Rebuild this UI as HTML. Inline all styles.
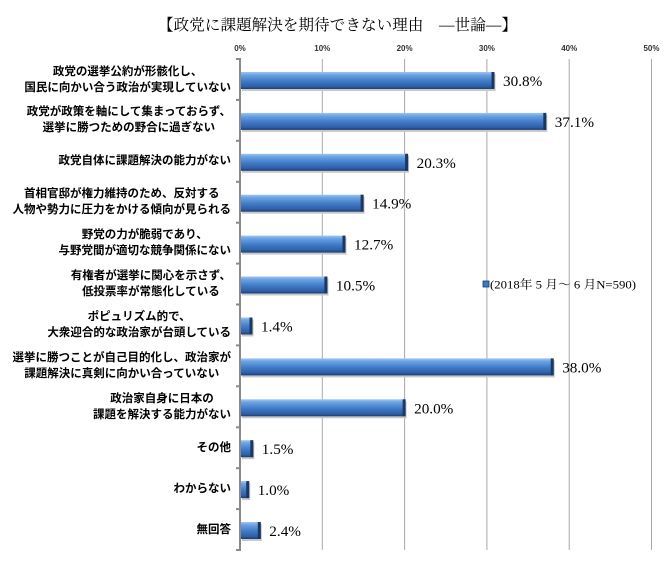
<!DOCTYPE html>
<html><head><meta charset="utf-8">
<style>
html,body{margin:0;padding:0;background:#fff;}
#wrap{position:relative;width:670px;height:568px;overflow:hidden;background:#fff;}
svg{position:absolute;left:0;top:0;}
.lab{position:absolute;right:439px;text-align:center;font-family:"Liberation Sans","Noto Sans CJK JP",sans-serif;font-weight:bold;font-size:11.5px;line-height:16px;color:#000;white-space:nowrap;}
</style></head><body><div id="wrap">
<svg width="670" height="568" viewBox="0 0 670 568" xmlns="http://www.w3.org/2000/svg">
<defs>
<linearGradient id="bg" x1="0" y1="0" x2="0" y2="1">
<stop offset="0" stop-color="#9cc6f2"/>
<stop offset="0.18" stop-color="#6aa2e2"/>
<stop offset="0.55" stop-color="#3f79c6"/>
<stop offset="0.85" stop-color="#2f5fa6"/>
<stop offset="1" stop-color="#1c3d6e"/>
</linearGradient>
</defs>
<text x="158" y="30" font-family="Liberation Serif,'Noto Serif CJK JP',serif" font-size="15.5" textLength="359" lengthAdjust="spacing" fill="#000">【政党に課題解決を期待できない理由　―世論―】</text>
<g font-family="Liberation Sans,sans-serif" font-size="8" font-weight="bold" fill="#333" text-anchor="middle">
<text x="240" y="51">0%</text><text x="322.3" y="51">10%</text><text x="404.6" y="51">20%</text><text x="486.9" y="51">30%</text><text x="569.2" y="51">40%</text><text x="651.5" y="51">50%</text>
</g>
<g stroke="#a8a8a8" stroke-width="1">
<line x1="322.3" y1="59" x2="322.3" y2="550"/><line x1="404.6" y1="59" x2="404.6" y2="550"/><line x1="486.9" y1="59" x2="486.9" y2="550"/><line x1="569.2" y1="59" x2="569.2" y2="550"/><line x1="651.5" y1="59" x2="651.5" y2="550"/>
</g>
<line x1="240" y1="58" x2="240" y2="551" stroke="#8a8a8a" stroke-width="2"/>
<g stroke="#8a8a8a" stroke-width="2">
<line x1="236" y1="59" x2="240" y2="59"/><line x1="236" y1="99.9" x2="240" y2="99.9"/><line x1="236" y1="140.8" x2="240" y2="140.8"/><line x1="236" y1="181.8" x2="240" y2="181.8"/><line x1="236" y1="222.7" x2="240" y2="222.7"/><line x1="236" y1="263.6" x2="240" y2="263.6"/><line x1="236" y1="304.5" x2="240" y2="304.5"/><line x1="236" y1="345.4" x2="240" y2="345.4"/><line x1="236" y1="386.3" x2="240" y2="386.3"/><line x1="236" y1="427.3" x2="240" y2="427.3"/><line x1="236" y1="468.2" x2="240" y2="468.2"/><line x1="236" y1="509.1" x2="240" y2="509.1"/><line x1="236" y1="550" x2="240" y2="550"/>
</g>
<g>
<rect x="242" y="74" width="253.5" height="17" fill="#c8c8c8"/>
<rect x="241" y="72" width="253.5" height="17" fill="url(#bg)"/><rect x="491.5" y="72" width="3" height="17" fill="#1a3864"/>
<rect x="242" y="114.9" width="305.3" height="17" fill="#c8c8c8"/>
<rect x="241" y="112.9" width="305.3" height="17" fill="url(#bg)"/><rect x="543.3" y="112.9" width="3" height="17" fill="#1a3864"/>
<rect x="242" y="155.8" width="167.1" height="17" fill="#c8c8c8"/>
<rect x="241" y="153.8" width="167.1" height="17" fill="url(#bg)"/><rect x="405.1" y="153.8" width="3" height="17" fill="#1a3864"/>
<rect x="242" y="196.7" width="122.6" height="17" fill="#c8c8c8"/>
<rect x="241" y="194.7" width="122.6" height="17" fill="url(#bg)"/><rect x="360.6" y="194.7" width="3" height="17" fill="#1a3864"/>
<rect x="242" y="237.6" width="104.5" height="17" fill="#c8c8c8"/>
<rect x="241" y="235.6" width="104.5" height="17" fill="url(#bg)"/><rect x="342.5" y="235.6" width="3" height="17" fill="#1a3864"/>
<rect x="242" y="278.5" width="86.4" height="17" fill="#c8c8c8"/>
<rect x="241" y="276.5" width="86.4" height="17" fill="url(#bg)"/><rect x="324.4" y="276.5" width="3" height="17" fill="#1a3864"/>
<rect x="242" y="319.5" width="11.5" height="17" fill="#c8c8c8"/>
<rect x="241" y="317.5" width="11.5" height="17" fill="url(#bg)"/><rect x="249.5" y="317.5" width="3" height="17" fill="#1a3864"/>
<rect x="242" y="360.4" width="312.7" height="17" fill="#c8c8c8"/>
<rect x="241" y="358.4" width="312.7" height="17" fill="url(#bg)"/><rect x="550.7" y="358.4" width="3" height="17" fill="#1a3864"/>
<rect x="242" y="401.3" width="164.6" height="17" fill="#c8c8c8"/>
<rect x="241" y="399.3" width="164.6" height="17" fill="url(#bg)"/><rect x="402.6" y="399.3" width="3" height="17" fill="#1a3864"/>
<rect x="242" y="442.2" width="12.3" height="17" fill="#c8c8c8"/>
<rect x="241" y="440.2" width="12.3" height="17" fill="url(#bg)"/><rect x="250.3" y="440.2" width="3" height="17" fill="#1a3864"/>
<rect x="242" y="483.1" width="8.2" height="17" fill="#c8c8c8"/>
<rect x="241" y="481.1" width="8.2" height="17" fill="url(#bg)"/><rect x="246.2" y="481.1" width="3" height="17" fill="#1a3864"/>
<rect x="242" y="524" width="19.8" height="17" fill="#c8c8c8"/>
<rect x="241" y="522" width="19.8" height="17" fill="url(#bg)"/><rect x="257.8" y="522" width="3" height="17" fill="#1a3864"/>
</g>
<g font-family="Liberation Serif,serif" font-size="15.2" fill="#000">
<text x="503" y="86">30.8%</text>
<text x="554.8" y="126.9">37.1%</text>
<text x="416.6" y="167.8">20.3%</text>
<text x="372.1" y="208.7">14.9%</text>
<text x="354" y="249.6">12.7%</text>
<text x="335.9" y="290.5">10.5%</text>
<text x="261" y="331.5">1.4%</text>
<text x="562.2" y="372.4">38.0%</text>
<text x="414.1" y="413.3">20.0%</text>
<text x="261.8" y="454.2">1.5%</text>
<text x="257.7" y="495.1">1.0%</text>
<text x="269.3" y="536">2.4%</text>
</g>
<rect x="483" y="281" width="6" height="6" fill="#3f79c6" stroke="#1c3d6e" stroke-width="0.8"/>
<text x="490" y="288.5" font-family="Liberation Serif,'Noto Serif CJK JP',serif" font-size="12" textLength="146" lengthAdjust="spacingAndGlyphs" fill="#000">(2018年 5 月～ 6 月N=590)</text>
</svg>
<div class="lab" style="top:63.5px">政党の選挙公約が形骸化し、<br>国民に向かい合う政治が実現していない</div>
<div class="lab" style="top:104.4px">政党が政策を軸にして集まっておらず、<br>選挙に勝つための野合に過ぎない</div>
<div class="lab" style="top:153.3px">政党自体に課題解決の能力がない</div>
<div class="lab" style="top:186.2px">首相官邸が権力維持のため、反対する<br>人物や勢力に圧力をかける傾向が見られる</div>
<div class="lab" style="top:227.1px">野党の力が脆弱であり、<br>与野党間が適切な競争関係にない</div>
<div class="lab" style="top:268px">有権者が選挙に関心を示さず、<br>低投票率が常態化している</div>
<div class="lab" style="top:309px">ポピュリズム的で、<br>大衆迎合的な政治家が台頭している</div>
<div class="lab" style="top:349.9px">選挙に勝つことが自己目的化し、政治家が<br>課題解決に真剣に向かい合っていない</div>
<div class="lab" style="top:390.8px">政治家自身に日本の<br>課題を解決する能力がない</div>
<div class="lab" style="top:439.7px">その他</div>
<div class="lab" style="top:480.6px">わからない</div>
<div class="lab" style="top:521.5px">無回答</div>
</div></body></html>
